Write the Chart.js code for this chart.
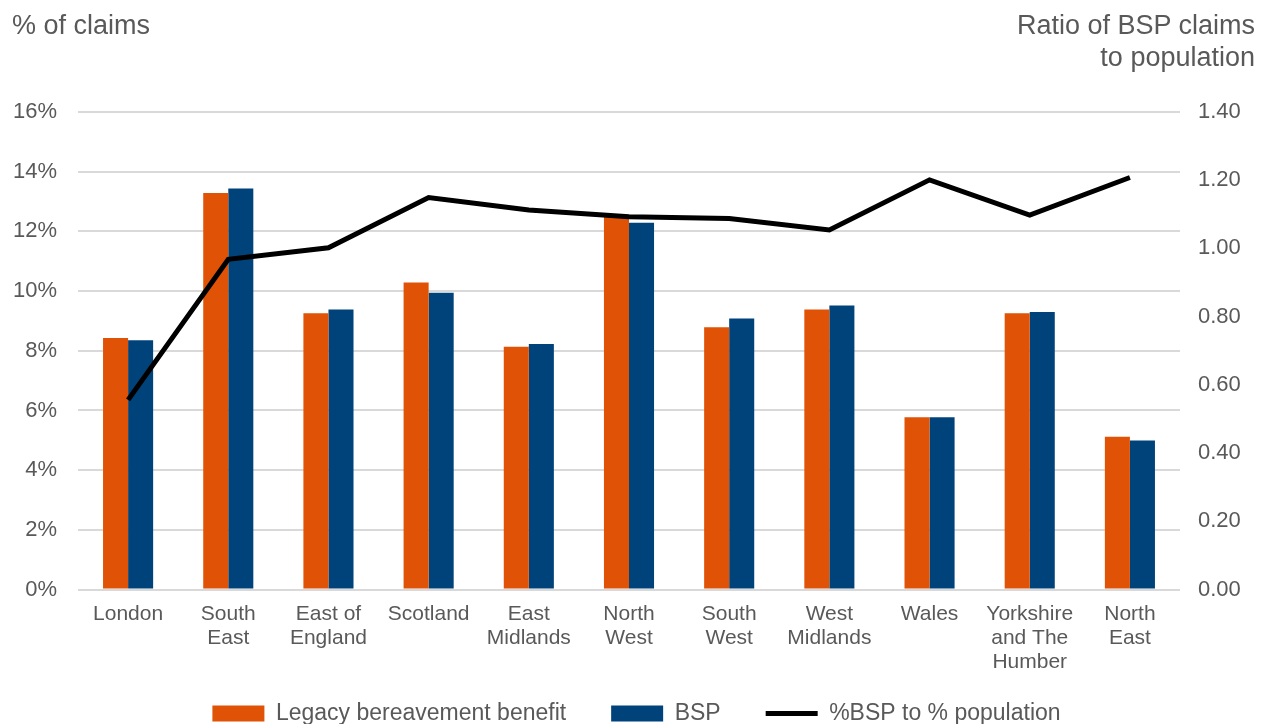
<!DOCTYPE html>
<html>
<head>
<meta charset="utf-8">
<script src="https://cdn.jsdelivr.net/npm/chart.js@4/dist/chart.umd.min.js"></script>
<style>
  body { margin: 0; overflow: hidden; background: #fff; font-family: "Liberation Sans", Arial, sans-serif; }
  #wrap { position: relative; width: 1273px; height: 735px; }
  .axis-title { position: absolute; color: #595959; font-size: 27px; line-height: 32px; }
  #leftTitle { left: 12px; top: 9px; }
  #rightTitle { right: 18px; top: 9px; text-align: right; }
</style>
</head>
<body>
<div id="wrap">
  <canvas id="claims"></canvas>
  <div class="axis-title" id="leftTitle">% of claims</div>
  <div class="axis-title" id="rightTitle">Ratio of BSP claims<br>to population</div>
</div>
<script>
// regions, in chart order
const regions = [
  "London",
  ["South", "East"],
  ["East of", "England"],
  "Scotland",
  ["East", "Midlands"],
  ["North", "West"],
  ["South", "West"],
  ["West", "Midlands"],
  "Wales",
  ["Yorkshire", "and The", "Humber"],
  ["North", "East"],
];

// % of claims by region
const legacyShare = [8.43, 13.29, 9.26, 10.29, 8.13, 12.5, 8.79, 9.38, 5.77, 9.26, 5.12];
const bspShare = [8.35, 13.44, 9.38, 9.94, 8.23, 12.29, 9.08, 9.52, 5.77, 9.3, 4.99];

// ratio of BSP share to population share
const bspRatio = [0.556, 0.968, 1.002, 1.149, 1.113, 1.093, 1.088, 1.054, 1.201, 1.098, 1.208];

const pctTicks = { min: 0, max: 16, step: 2 };
const ratioTicks = { min: 0, max: 1.4, step: 0.2 };

const fontFamily = '"Liberation Sans", Arial, sans-serif';
const grey = "#595959";

const ctx = document.getElementById("claims").getContext("2d");

let claimsChart = new Chart(ctx, {
  type: "bar",
  data: {
    labels: regions,
    datasets: [
      {
        label: "Legacy bereavement benefit",
        data: legacyShare,
        backgroundColor: "#E05206",
        borderWidth: 0,
        yAxisID: "y",
        order: 1,
      },
      {
        label: "BSP",
        data: bspShare,
        backgroundColor: "#00437A",
        borderWidth: 0,
        yAxisID: "y",
        order: 1,
      },
      {
        type: "line",
        label: "%BSP to % population",
        data: bspRatio,
        borderColor: "#000000",
        backgroundColor: "#000000",
        borderWidth: 5,
        pointRadius: 0,
        tension: 0,
        yAxisID: "y1",
        order: 0,
      },
    ],
  },
  options: {
    responsive: true,
    maintainAspectRatio: false,
    animation: false,
    layout: { padding: { top: 112, left: 0, right: 0, bottom: 0 } },
    datasets: {
      bar: { categoryPercentage: 0.5, barPercentage: 1.0 },
    },
    scales: {
      x: {
        grid: { display: false },
        border: { display: false },
        ticks: {
          color: grey,
          padding: 5,
          maxRotation: 0,
          autoSkip: false,
          font: { family: fontFamily, size: 21, lineHeight: 1.14 },
        },
        afterFit: (scale) => {
          scale.height = 67.5;
          // three-line label runs past the axis box, so don't clip it
          scale._computeLabelArea = () => undefined;
        },
      },
      y: {
        position: "left",
        min: pctTicks.min,
        max: pctTicks.max,
        grid: { color: "#D9D9D9", lineWidth: 2, drawTicks: false },
        border: { display: false },
        ticks: {
          stepSize: pctTicks.step,
          color: grey,
          padding: 21,
          font: { family: fontFamily, size: 22 },
          callback: (v) => v + "%",
        },
        afterFit: (scale) => { scale.width = 78; },
      },
      y1: {
        position: "right",
        min: ratioTicks.min,
        max: ratioTicks.max,
        grid: { display: false, drawTicks: false },
        border: { display: false },
        ticks: {
          stepSize: ratioTicks.step,
          color: grey,
          padding: 18,
          font: { family: fontFamily, size: 22 },
          callback: (v) => Number(v).toFixed(2),
        },
        afterFit: (scale) => { scale.width = 93; },
      },
    },
    plugins: {
      tooltip: { enabled: false },
      legend: {
        position: "bottom",
        labels: {
          color: grey,
          font: { family: fontFamily, size: 23 },
          usePointStyle: true,
          pointStyleWidth: 52,
          boxWidth: 52,
          boxHeight: 16,
          padding: 45,
          sort: (a, b) => a.datasetIndex - b.datasetIndex,
          generateLabels: (chart) =>
            Chart.defaults.plugins.legend.labels.generateLabels(chart).map((item) => {
              const ds = chart.data.datasets[item.datasetIndex];
              if (ds.type === "line") {
                item.pointStyle = "line";
                item.lineWidth = 5;
              } else {
                item.pointStyle = "rect";
                item.lineWidth = 0;
              }
              return item;
            }),
        },
      },
    },
  },
});
</script>
</body>
</html>
